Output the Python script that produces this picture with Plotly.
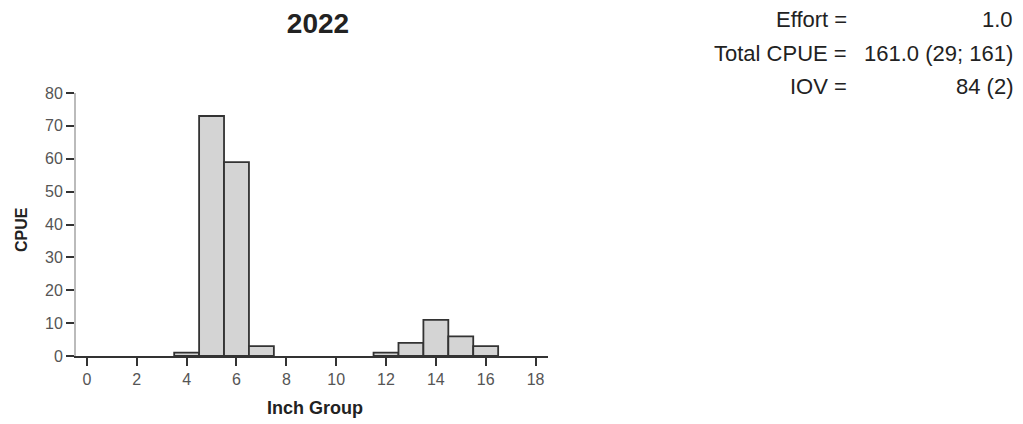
import plotly.graph_objects as go

# CPUE by inch group, 2022 sample
inch_group = [4, 5, 6, 7, 12, 13, 14, 15, 16]
cpue = [1, 73, 59, 3, 1, 4, 11, 6, 3]

x_ticks = [0, 2, 4, 6, 8, 10, 12, 14, 16, 18]
y_ticks = [0, 10, 20, 30, 40, 50, 60, 70, 80]

stat_labels = ["Effort =", "Total CPUE =", "IOV ="]
stat_values = ["1.0", "161.0 (29; 161)", "84 (2)"]

FONT = "Liberation Sans, Arial, sans-serif"
L, R, T, B = 76, 475, 93, 68
W, H = 1023, 424
pw, ph = W - L - R, H - T - B

fig = go.Figure(
    go.Bar(
        x=inch_group,
        y=cpue,
        width=1,
        marker=dict(color="#d4d4d4", line=dict(color="#333333", width=1.8)),
    )
)

fig.update_layout(
    width=W,
    height=H,
    margin=dict(l=L, r=R, t=T, b=B),
    paper_bgcolor="white",
    plot_bgcolor="white",
    showlegend=False,
    font=dict(family=FONT, color="#444444", size=16),
    title=dict(
        text="<b>2022</b>",
        x=318 / W,
        xanchor="center",
        y=1 - 23 / H,
        yanchor="middle",
        font=dict(family=FONT, size=28, color="#222222"),
    ),
    xaxis=dict(
        range=[-0.44, 18.5],
        tickvals=x_ticks,
        ticks="outside",
        ticklen=8,
        tickcolor="#333333",
        tickwidth=1.8,
        showline=True,
        linecolor="#333333",
        linewidth=1.8,
        showgrid=False,
        zeroline=False,
        tickfont=dict(size=16, color="#555555"),
    ),
    yaxis=dict(
        range=[0, 80],
        tickvals=y_ticks,
        ticks="outside",
        ticklen=8,
        tickcolor="#333333",
        tickwidth=1.8,
        showline=True,
        linecolor="#bbbbbb",
        linewidth=2,
        showgrid=False,
        zeroline=False,
        tickfont=dict(size=16, color="#555555"),
    ),
)

# axis titles
fig.add_annotation(
    text="<b>CPUE</b>", xref="paper", yref="paper",
    x=(21 - L) / pw, y=(H - B - 230) / ph,
    xanchor="center", yanchor="middle",
    textangle=-90, showarrow=False,
    font=dict(family=FONT, size=16, color="#222222"),
)
fig.add_annotation(
    text="<b>Inch Group</b>", xref="paper", yref="paper",
    x=(315 - L) / pw, y=(H - B - 408) / ph,
    xanchor="center", yanchor="middle",
    showarrow=False,
    font=dict(family=FONT, size=18, color="#222222"),
)

# summary statistics, top right
row_y = [20, 53, 86]
for label, value, py in zip(stat_labels, stat_values, row_y):
    yp = (H - B - py) / ph
    fig.add_annotation(
        text=label, xref="paper", yref="paper",
        x=(849 - L) / pw, y=yp, xanchor="right", yanchor="middle",
        showarrow=False, font=dict(family=FONT, size=22, color="#222222"),
    )
    fig.add_annotation(
        text=value, xref="paper", yref="paper",
        x=(1015 - L) / pw, y=yp, xanchor="right", yanchor="middle",
        showarrow=False, font=dict(family=FONT, size=22, color="#222222"),
    )

fig.write_html("out.html")
